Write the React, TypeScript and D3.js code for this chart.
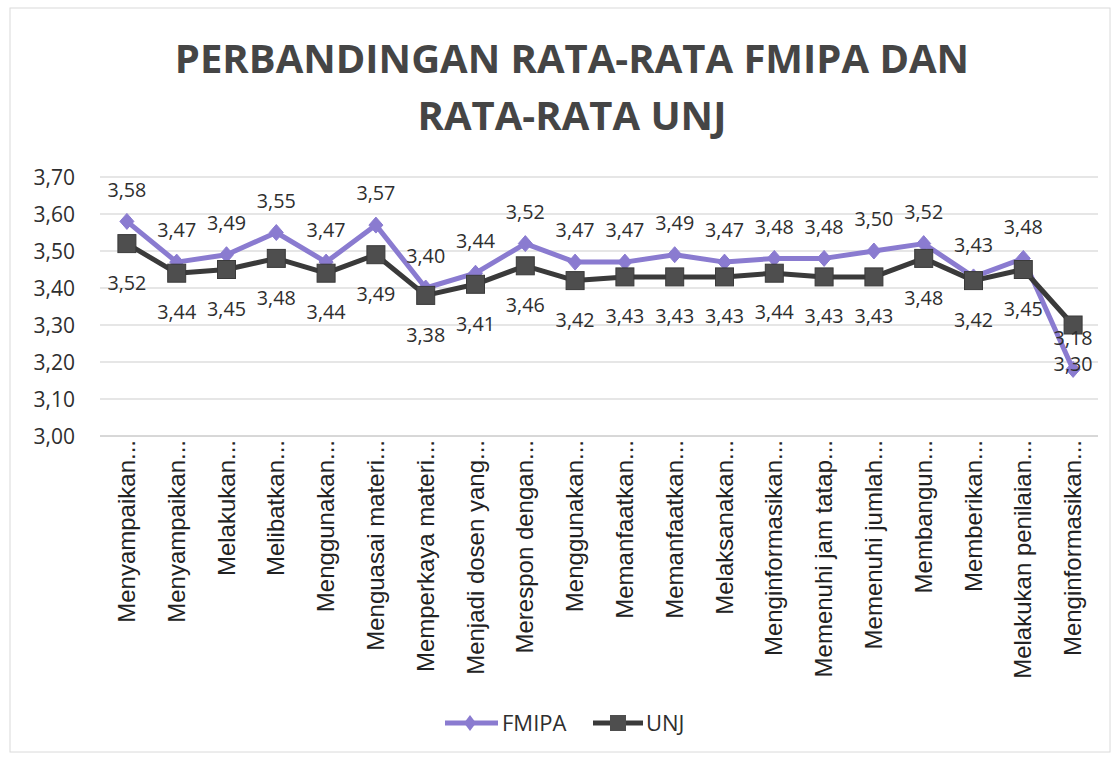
import React from "react";
import * as d3 from "d3";

const categories = [
  "Menyampaikan...",
  "Menyampaikan...",
  "Melakukan...",
  "Melibatkan...",
  "Menggunakan...",
  "Menguasai materi...",
  "Memperkaya materi...",
  "Menjadi dosen yang...",
  "Merespon dengan...",
  "Menggunakan...",
  "Memanfaatkan...",
  "Memanfaatkan...",
  "Melaksanakan...",
  "Menginformasikan...",
  "Memenuhi jam tatap...",
  "Memenuhi jumlah...",
  "Membangun...",
  "Memberikan...",
  "Melakukan penilaian...",
  "Menginformasikan...",
];

const fmipa = [3.58, 3.47, 3.49, 3.55, 3.47, 3.57, 3.4, 3.44, 3.52, 3.47, 3.47, 3.49, 3.47, 3.48, 3.48, 3.5, 3.52, 3.43, 3.48, 3.18];
const unj = [3.52, 3.44, 3.45, 3.48, 3.44, 3.49, 3.38, 3.41, 3.46, 3.42, 3.43, 3.43, 3.43, 3.44, 3.43, 3.43, 3.48, 3.42, 3.45, 3.3];

const yTicks = [3.0, 3.1, 3.2, 3.3, 3.4, 3.5, 3.6, 3.7];

const titleLines = ["PERBANDINGAN RATA-RATA FMIPA DAN", "RATA-RATA UNJ"];

const PURPLE = "#8A7BD0";
const DARK_LINE = "#3a3a3a";
const DARK_MARK = "#4e4e4e";
const TEXT = "#2e2e2e";

const fmt = (v: number) => v.toFixed(2).replace(".", ",");

export default function App() {
  const W = 1120;
  const H = 757;
  const idx = categories.map((_, i) => i);
  const x = d3.scalePoint<number>().domain(idx).range([102, 1098]).padding(0.5);
  const y = d3.scaleLinear().domain([3.0, 3.7]).range([436, 177]);

  const line = d3
    .line<number>()
    .x((_, i) => x(i) as number)
    .y((d) => y(d));

  const diamond = (cx: number, cy: number, hw: number, hh: number) =>
    `M${cx},${cy - hh}L${cx + hw},${cy}L${cx},${cy + hh}L${cx - hw},${cy}Z`;

  return (
    <svg
      width={W}
      height={H}
      style={{ position: "absolute", left: 0, top: 0, background: "#fff" }}
    >
      <rect x={10} y={8} width={1100} height={744} fill="none" stroke="#dadada" strokeWidth={1} />

      {titleLines.map((t, i) => (
        <text
          key={i}
          x={572}
          y={73 + i * 57}
          textAnchor="middle"
          fontFamily="'Open Sans', sans-serif"
          fontWeight={700}
          fontSize={40}
          fill="#454545"
        >
          {t}
        </text>
      ))}

      {/* gridlines */}
      {yTicks.map((t) => (
        <line
          key={t}
          x1={100}
          x2={1098}
          y1={y(t)}
          y2={y(t)}
          stroke={t === 3.0 ? "#b0b0b0" : "#cdcdcd"}
          strokeWidth={1}
        />
      ))}

      {/* y tick labels */}
      {yTicks.map((t) => (
        <text
          key={"yl" + t}
          x={75}
          y={y(t)}
          dy="0.36em"
          textAnchor="end"
          fontFamily="'Open Sans', sans-serif"
          fontSize={21}
          fill={TEXT}
        >
          {fmt(t)}
        </text>
      ))}

      {/* category labels */}
      {categories.map((c, i) => (
        <text
          key={"c" + i}
          transform={`translate(${(x(i) as number) + 8},${440}) rotate(-90)`}
          textAnchor="end"
          fontFamily="'Liberation Sans', Arial, sans-serif"
          fontSize={24}
          fill="#222"
        >
          {c}
        </text>
      ))}

      {/* FMIPA series */}
      <path d={line(fmipa) || ""} fill="none" stroke={PURPLE} strokeWidth={5} strokeLinejoin="round" />
      {fmipa.map((v, i) => (
        <path key={"fd" + i} d={diamond(x(i) as number, y(v), 7, 8)} fill={PURPLE} stroke={PURPLE} strokeWidth={1} />
      ))}

      {/* UNJ series */}
      <path d={line(unj) || ""} fill="none" stroke={DARK_LINE} strokeWidth={5} strokeLinejoin="round" />
      {unj.map((v, i) => (
        <rect
          key={"us" + i}
          x={(x(i) as number) - 9}
          y={y(v) - 9}
          width={18}
          height={18}
          fill={DARK_MARK}
          stroke="#3a3a3a"
          strokeWidth={1}
        />
      ))}

      {/* data labels */}
      {fmipa.map((v, i) => (
        <text
          key={"fl" + i}
          x={x(i) as number}
          y={y(v) - 32}
          dy="0.36em"
          textAnchor="middle"
          fontFamily="'Open Sans', sans-serif"
          fontSize={20}
          textLength={39}
          lengthAdjust="spacingAndGlyphs"
          fill={TEXT}
        >
          {fmt(v)}
        </text>
      ))}
      {unj.map((v, i) => (
        <text
          key={"ul" + i}
          x={x(i) as number}
          y={y(v) + 39}
          dy="0.36em"
          textAnchor="middle"
          fontFamily="'Open Sans', sans-serif"
          fontSize={20}
          textLength={39}
          lengthAdjust="spacingAndGlyphs"
          fill={TEXT}
        >
          {fmt(v)}
        </text>
      ))}

      {/* legend */}
      <g>
        <line x1={445} x2={498} y1={723} y2={723} stroke={PURPLE} strokeWidth={5} />
        <path d={diamond(470, 723, 6, 8)} fill={PURPLE} />
        <text
          x={502}
          y={723}
          dy="0.36em"
          fontFamily="'Open Sans', sans-serif"
          fontSize={22}
          fill={TEXT}
        >
          FMIPA
        </text>
        <line x1={593} x2={643} y1={723} y2={723} stroke={DARK_LINE} strokeWidth={5} />
        <rect x={610} y={715} width={16} height={16} fill={DARK_MARK} />
        <text
          x={646}
          y={723}
          dy="0.36em"
          fontFamily="'Open Sans', sans-serif"
          fontSize={22}
          fill={TEXT}
        >
          UNJ
        </text>
      </g>
    </svg>
  );
}
